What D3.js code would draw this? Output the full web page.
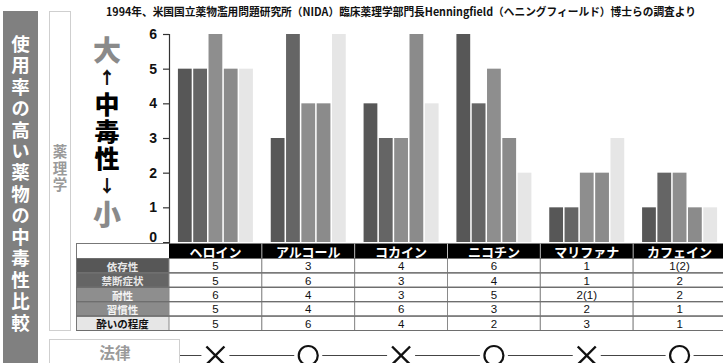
<!DOCTYPE html>
<html>
<head>
<meta charset="utf-8">
<script src="https://cdn.jsdelivr.net/npm/d3@7"></script>
<style>
  html, body { margin: 0; padding: 0; background: #fff; }
  svg { display: block; font-family: "Noto Sans CJK JP", "Noto Sans", sans-serif; }
  .vert { writing-mode: vertical-rl; text-orientation: upright; }
</style>
</head>
<body>
<svg id="chart" width="723" height="363"></svg>
<script>
// Drugs compared (columns) and the five measured properties (series)
const drugs = ["ヘロイン", "アルコール", "コカイン", "ニコチン", "マリファナ", "カフェイン"];
const seriesNames = ["依存性", "禁断症状", "耐性", "習慣性", "酔いの程度"];

// Scores per property, one value per drug (6 = strongest)
const dependence  = [5, 3, 4, 6, 1, 1];
const withdrawal  = [5, 6, 3, 4, 1, 2];
const tolerance   = [6, 4, 3, 5, 2, 2];
const reinforce   = [5, 4, 6, 3, 2, 1];
const intoxication= [5, 6, 4, 2, 3, 1];
const seriesValues = [dependence, withdrawal, tolerance, reinforce, intoxication];

// Alternate scores noted in parentheses in the table
const altNotes = [
  [null, null, null, null, null, 2],
  [null, null, null, null, null, null],
  [null, null, null, null, 1, null],
  [null, null, null, null, null, null],
  [null, null, null, null, null, null]
];

// Legal status: true = legal (○), false = illegal (×)
const legal = [false, true, false, true, false, true];

const yTicks = [0, 1, 2, 3, 4, 5, 6];
const titleText = "1994年、米国国立薬物濫用問題研究所（NIDA）臨床薬理学部門長Henningfield（ヘニングフィールド）博士らの調査より";

const seriesColors = ["#575757", "#656565", "#8e8e8e", "#8b8b8b", "#e6e6e6"];
const labelText = ["#e8e8e8", "#e8e8e8", "#f4f4f4", "#f4f4f4", "#111"];

const svg = d3.select("#chart");

// ---- left side panels ----
svg.append("rect").attr("x", 3).attr("y", 11).attr("width", 35).attr("height", 360).attr("fill", "#808080");
// vertical headline, set in one vertical text run
svg.append("text").attr("class", "vert")
  .attr("x", 20.5).attr("y", 34.5)
  .attr("font-size", 18.5).attr("font-weight", 700).attr("fill", "#fff")
  .attr("letter-spacing", 2.95)
  .text("使用率の高い薬物の中毒性比較");

svg.append("rect").attr("x", 49.5).attr("y", 11.5).attr("width", 21).attr("height", 319)
  .attr("fill", "#fff").attr("stroke", "#cfcfcf");
svg.append("text").attr("class", "vert")
  .attr("x", 60).attr("y", 144.5)
  .attr("font-size", 14.5).attr("font-weight", 700).attr("fill", "#9a9a9a")
  .attr("letter-spacing", 2)
  .text("薬理学");

// Big / addiction / small vertical legend
const scaleWords = [
  { t: "大", y: 50, c: "#8a8a8a", s: 28 },
  { t: "↑", y: 78, c: "#111", s: 17 },
  { t: "中", y: 104, c: "#000", s: 25 },
  { t: "毒", y: 131, c: "#000", s: 25 },
  { t: "性", y: 158, c: "#000", s: 25 },
  { t: "↓", y: 186, c: "#111", s: 17 },
  { t: "小", y: 214, c: "#8a8a8a", s: 28 }
];
svg.append("text").attr("class", "vert").attr("font-weight", 900)
  .selectAll("tspan").data(scaleWords).join("tspan")
  .attr("x", 107).attr("y", d => d.y - d.s / 2)
  .attr("font-size", d => d.s).attr("fill", d => d.c).text(d => d.t);

// ---- title ----
svg.append("text").attr("x", 401).attr("y", 16).attr("text-anchor", "middle")
  .attr("font-size", 11).attr("font-weight", 700).attr("fill", "#111")
  .attr("textLength", 590).attr("lengthAdjust", "spacingAndGlyphs")
  .text(titleText);

// ---- scales ----
const x = d3.scaleBand().domain(drugs).range([169, 726]).paddingInner(0).paddingOuter(0);
const groupW = 75;
const xs = d3.scaleBand().domain(seriesNames).range([0, groupW]).paddingInner(0.1);
const y = d3.scaleLinear().domain([0, 6]).range([242, 34]);

// ---- bars ----
const barG = svg.append("g");
seriesNames.forEach((s, si) => {
  barG.append("g").selectAll("rect").data(drugs).join("rect")
    .attr("x", d => x(d) + (x.bandwidth() - groupW) / 2 + xs(s))
    .attr("y", (d, i) => y(seriesValues[si][i]))
    .attr("width", xs.bandwidth())
    .attr("height", (d, i) => y(0) - y(seriesValues[si][i]))
    .attr("fill", seriesColors[si]);
});

// ---- y axis ----
const axis = svg.append("g").attr("transform", "translate(169,0)")
  .call(d3.axisLeft(y).tickValues(yTicks).tickFormat(d3.format("d"))
    .tickSize(6).tickSizeOuter(6).tickPadding(6));
axis.select(".domain").attr("stroke", "#333").attr("stroke-width", 1.2);
axis.selectAll(".tick line").attr("stroke", "#333").attr("stroke-width", 1.2);
axis.selectAll(".tick text").attr("font-size", 14).attr("font-weight", 700)
  .attr("font-family", "'Liberation Sans', Arial, sans-serif").attr("fill", "#111")
  .attr("x", -12);
axis.selectAll(".tick").filter(d => d === 0).select("line").remove();
axis.selectAll(".tick").filter(d => d === 0).select("text").attr("dy", "-0.05em");

// ---- table ----
const tableLeft = 76, labelRight = 169;
const headerTop = 243.5, headerH = 15, rowH = 14.4;
const tbl = svg.append("g");

// header row
tbl.append("rect").attr("x", tableLeft + 0.5).attr("y", headerTop).attr("width", labelRight - tableLeft)
  .attr("height", headerH).attr("fill", "#fff").attr("stroke", "#777");
tbl.append("rect").attr("x", labelRight).attr("y", headerTop).attr("width", 723 - labelRight)
  .attr("height", headerH).attr("fill", "#000");
tbl.selectAll(".hsep").data(drugs.slice(1)).join("line").attr("class", "hsep")
  .attr("x1", d => x(d)).attr("x2", d => x(d)).attr("y1", headerTop).attr("y2", headerTop + headerH)
  .attr("stroke", "#bbb").attr("stroke-width", 1);
tbl.selectAll(".htxt").data(drugs).join("text").attr("class", "htxt")
  .attr("x", d => x(d) + x.bandwidth() / 2).attr("y", headerTop + headerH / 2 + 0.5)
  .attr("text-anchor", "middle").attr("dominant-baseline", "central")
  .attr("font-size", 13).attr("font-weight", 700).attr("fill", "#fff").text(d => d);

// body rows
seriesNames.forEach((s, si) => {
  const ry = headerTop + headerH + si * rowH;
  tbl.append("rect").attr("x", tableLeft + 0.5).attr("y", ry).attr("width", labelRight - tableLeft)
    .attr("height", rowH).attr("fill", seriesColors[si]).attr("stroke", "#777");
  tbl.append("text").attr("x", (tableLeft + labelRight) / 2).attr("y", ry + rowH / 2 + 0.5)
    .attr("text-anchor", "middle").attr("dominant-baseline", "central")
    .attr("font-size", 10.5).attr("font-weight", 700).attr("fill", labelText[si]).text(s);
  tbl.append("g").selectAll("rect").data(drugs).join("rect")
    .attr("x", d => x(d)).attr("y", ry).attr("width", x.bandwidth()).attr("height", rowH)
    .attr("fill", "#fff").attr("stroke", "#8a8a8a").attr("stroke-width", 1);
  tbl.append("g").selectAll("text").data(drugs).join("text")
    .attr("x", d => x(d) + x.bandwidth() / 2).attr("y", ry + rowH / 2 + 0.5)
    .attr("text-anchor", "middle").attr("dominant-baseline", "central")
    .attr("font-size", 11.5).attr("font-weight", 500)
    .attr("font-family", "'Liberation Sans', Arial, sans-serif").attr("fill", "#111")
    .text((d, i) => {
      const v = seriesValues[si][i];
      const n = altNotes[si][i];
      return n == null ? String(v) : `${v}(${n})`;
    });
});
// heavier horizontal rules between rows
const rulesY = d3.range(0, 6).map(i => headerTop + headerH + i * rowH);
tbl.selectAll(".rule").data(rulesY).join("line").attr("class", "rule")
  .attr("x1", tableLeft).attr("x2", 723).attr("y1", d => d).attr("y2", d => d)
  .attr("stroke", "#6e6e6e").attr("stroke-width", 1.2);

// ---- legal status row ----
svg.append("rect").attr("x", 49.5).attr("y", 339.5).attr("width", 130).attr("height", 40)
  .attr("fill", "#fff").attr("stroke", "#cfcfcf");
svg.append("text").attr("x", 115).attr("y", 352).attr("text-anchor", "middle")
  .attr("dominant-baseline", "central").attr("font-size", 15.5).attr("font-weight", 700)
  .attr("fill", "#9a9a9a").text("法律");

const lawY = 355.5;
const lawG = svg.append("g");
// connecting line, broken around each symbol
const stops = [180].concat(drugs.map(d => x(d) + x.bandwidth() / 2));
stops.forEach((sx, i) => {
  const startX = i === 0 ? sx : sx + 14;
  const endX = i < drugs.length ? stops[i + 1] - 14 : 723;
  lawG.append("line").attr("x1", startX).attr("x2", endX).attr("y1", lawY).attr("y2", lawY)
    .attr("stroke", "#444").attr("stroke-width", 1);
});
drugs.forEach((d, i) => {
  const cx = x(d) + x.bandwidth() / 2;
  if (legal[i]) {
    lawG.append("circle").attr("cx", cx).attr("cy", lawY).attr("r", 9.5)
      .attr("fill", "none").attr("stroke", "#111").attr("stroke-width", 2.2);
  } else {
    const h = 9;
    lawG.append("path")
      .attr("d", `M${cx - h},${lawY - h}L${cx + h},${lawY + h}M${cx + h},${lawY - h}L${cx - h},${lawY + h}`)
      .attr("stroke", "#111").attr("stroke-width", 2.4).attr("fill", "none");
  }
});
</script>
</body>
</html>
